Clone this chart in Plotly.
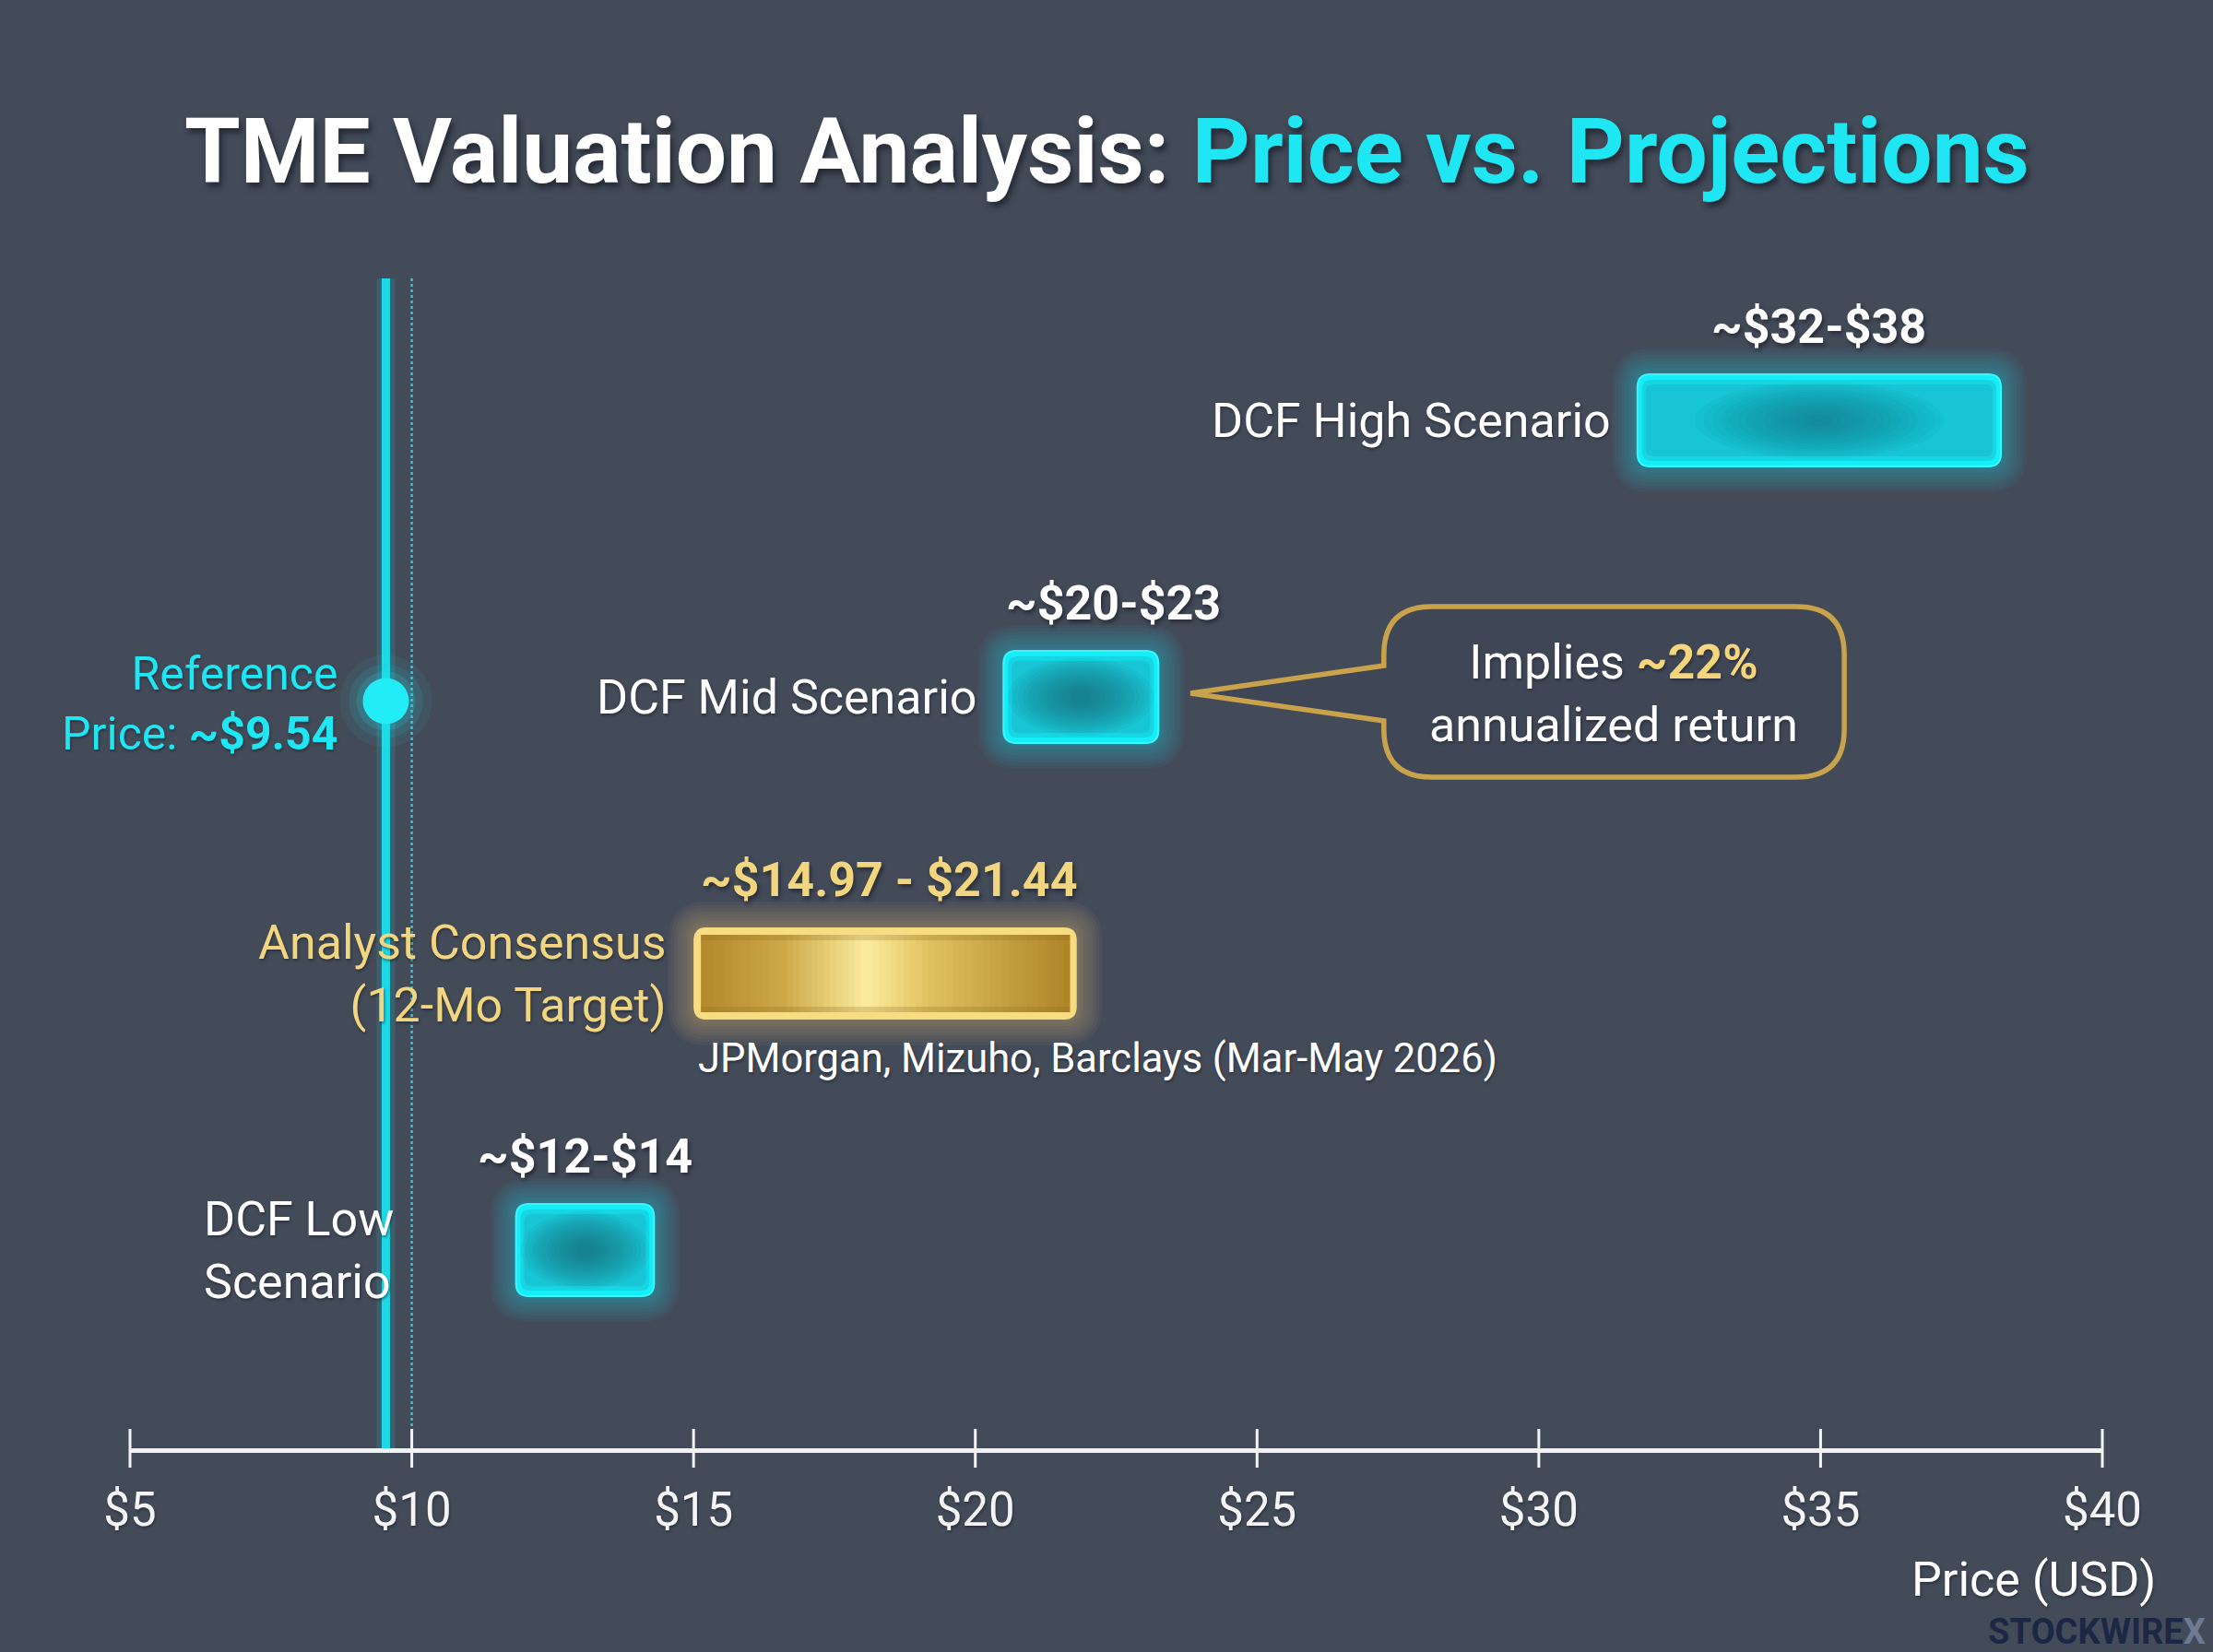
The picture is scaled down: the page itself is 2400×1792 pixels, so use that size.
import plotly.graph_objects as go

# ---------------- data ----------------
categories = ["DCF High Scenario", "DCF Mid Scenario",
              "Analyst Consensus<br>(12-Mo Target)", "DCF Low<br>Scenario"]
row_pos = [4, 3, 2, 1]
range_low = [31.75, 20.5, 15.0, 11.85]
range_high = [38.2, 23.25, 21.8, 14.3]
range_labels = ["~$32-$38", "~$20-$23", "~$14.97 - $21.44", "~$12-$14"]
is_consensus = [False, False, True, False]
reference_price = 9.54
reference_level = 10
tick_vals = [5, 10, 15, 20, 25, 30, 35, 40]
tick_text = ["$5", "$10", "$15", "$20", "$25", "$30", "$35", "$40"]
consensus_source = "JPMorgan, Mizuho, Barclays (Mar-May 2026)"
callout_text = ["Implies <b><span style='color:#F4D57C'>~22%</span></b>", "annualized return"]

# ---------------- layout geometry ----------------
W, H = 2400, 1792
ML, MR, MT, MB = 141, 120, 250, 221
X0, X1 = 5, 40
ROW_PX = 300
Y0 = 1 - 215 / ROW_PX
Y1 = Y0 + (H - MT - MB) / ROW_PX
PXX = (W - ML - MR) / (X1 - X0)

def px2x(p):
    return X0 + (p - ML) / PXX

def px2y(p):
    return Y0 + (H - MB - p) / ROW_PX

def x2px(v):
    return ML + (v - X0) * PXX

def y2px(v):
    return H - MB - (v - Y0) * ROW_PX

def P(x, y):
    return f"{px2x(x):.5f},{px2y(y):.5f}"

def rr_path(x0, y0, x1, y1, r):
    r = min(r, (x1 - x0) / 2, (y1 - y0) / 2)
    return (f"M {P(x0 + r, y0)} L {P(x1 - r, y0)} Q {P(x1, y0)} {P(x1, y0 + r)} "
            f"L {P(x1, y1 - r)} Q {P(x1, y1)} {P(x1 - r, y1)} L {P(x0 + r, y1)} "
            f"Q {P(x0, y1)} {P(x0, y1 - r)} L {P(x0, y0 + r)} Q {P(x0, y0)} {P(x0 + r, y0)} Z")

FONT = "Roboto"
CYAN = "#1EE6F2"
GOLD_TXT = "#F2D57F"
BG = "#434b59"
SHADOW = "1px 2px 3px rgba(20,25,35,0.5)"

shapes = []
annotations = []

def hex2rgb(h):
    h = h.lstrip('#')
    return tuple(int(h[i:i + 2], 16) for i in (0, 2, 4))

def lerp_color(stops, t):
    for i in range(len(stops) - 1):
        t0, c0 = stops[i]
        t1, c1 = stops[i + 1]
        if t0 <= t <= t1:
            f = (t - t0) / (t1 - t0) if t1 > t0 else 0
            a, b = hex2rgb(c0), hex2rgb(c1)
            return "rgb(%d,%d,%d)" % tuple(round(a[k] + (b[k] - a[k]) * f) for k in range(3))
    return stops[-1][1]

BAR_H = 100
for cat, rp, lo, hi, lab, cons in zip(categories, row_pos, range_low, range_high, range_labels, is_consensus):
    bx0, bx1 = x2px(lo), x2px(hi)
    cy = y2px(rp)
    by0, by1 = cy - BAR_H / 2, cy + BAR_H / 2
    glow = "#F5D46C" if cons else "#18E8F5"
    for k in range(1, 9):
        e = 3.5 * k
        shapes.append(dict(type="path", path=rr_path(bx0 - e, by0 - e, bx1 + e, by1 + e, 14 + e),
                           xref="x", yref="y", fillcolor=glow, opacity=0.045, line=dict(width=0), layer="below"))
    if cons:
        shapes.append(dict(type="path", path=rr_path(bx0, by0, bx1, by1, 14), xref="x", yref="y",
                           fillcolor="#F7DC82", line=dict(width=0)))
        ix0, ix1, iy0, iy1 = bx0 + 8, bx1 - 8, by0 + 8, by1 - 8
        stops = [(0, "#B3892B"), (0.22, "#CDA746"), (0.45, "#FCEC9E"), (0.62, "#DFC15F"), (1, "#AE8427")]
        n = 60
        for i in range(n):
            t = (i + 0.5) / n
            sx0 = ix0 + (ix1 - ix0) * i / n
            sx1 = ix0 + (ix1 - ix0) * (i + 1) / n + 0.8
            shapes.append(dict(type="rect", x0=px2x(sx0), x1=px2x(sx1), y0=px2y(iy1), y1=px2y(iy0),
                               xref="x", yref="y", fillcolor=lerp_color(stops, t), line=dict(width=0)))
        shapes.append(dict(type="rect", x0=px2x(ix0), x1=px2x(ix1), y0=px2y(iy0 + 6), y1=px2y(iy0),
                           xref="x", yref="y", fillcolor="#8a6a20", opacity=0.25, line=dict(width=0)))
        shapes.append(dict(type="rect", x0=px2x(ix0), x1=px2x(ix1), y0=px2y(iy1), y1=px2y(iy1 - 6),
                           xref="x", yref="y", fillcolor="#8a6a20", opacity=0.25, line=dict(width=0)))
    else:
        shapes.append(dict(type="path", path=rr_path(bx0, by0, bx1, by1, 14), xref="x", yref="y",
                           fillcolor="#14EEF8", line=dict(color="#3AF7FF", width=2)))
        shapes.append(dict(type="path", path=rr_path(bx0 + 5, by0 + 6, bx1 - 5, by1 - 6, 10), xref="x", yref="y",
                           fillcolor="#16D6E3", line=dict(width=0)))
        shapes.append(dict(type="path", path=rr_path(bx0 + 9, by0 + 11, bx1 - 9, by1 - 11, 8), xref="x", yref="y",
                           fillcolor="#18C2D1", line=dict(width=0), opacity=0.85))
        w, h = bx1 - bx0, by1 - by0
        cx = (bx0 + bx1) / 2
        rxmax = min(w / 2 - 10, 130)
        op = 0.07 if w < 250 else 0.05
        for j in range(14):
            f = 1 - j / 14
            rx = rxmax * f + 5
            ry = (h / 2 - 12) * f + 4
            shapes.append(dict(type="circle", x0=px2x(cx - rx), x1=px2x(cx + rx), y0=px2y(cy + ry), y1=px2y(cy - ry),
                               xref="x", yref="y", fillcolor="#1d5d6e", opacity=op, line=dict(width=0)))
    annotations.append(dict(x=(lo + hi) / 2, y=rp, xref="x", yref="y", yshift=102,
                            xshift=35 if rp == 3 else (5 if cons else 0),
                            text=f"<b>{lab}</b>", showarrow=False, xanchor="center", yanchor="middle",
                            font=dict(family=FONT, size=52, color=GOLD_TXT if cons else "#FFFFFF",
                                      shadow="2px 3px 4px rgba(20,25,35,0.6)")))
    if rp == 1:
        annotations.append(dict(x=6.28, y=rp, xref="x", yref="y", text=cat, showarrow=False,
                                xanchor="left", yanchor="middle", align="left",
                                font=dict(family=FONT, size=52, color="#FFFFFF", shadow=SHADOW)))
    else:
        annotations.append(dict(x=lo, y=rp, xref="x", yref="y", xshift=-27, text=cat, showarrow=False,
                                xanchor="right", yanchor="middle", align="right",
                                font=dict(family=FONT, size=52, color=GOLD_TXT if cons else "#FFFFFF",
                                          shadow=SHADOW)))
    if cons:
        annotations.append(dict(x=lo, y=rp, xref="x", yref="y", xshift=3, yshift=-92, text=consensus_source,
                                showarrow=False, xanchor="left", yanchor="middle",
                                font=dict(family=FONT, size=43.5, color="#FFFFFF", shadow=SHADOW)))

# ---------------- callout (tied to mid scenario row) ----------------
mid_y = y2px(3)
cb_x0, cb_x1 = x2px(27.25), x2px(35.42)
cb_y0, cb_y1 = mid_y - 98, mid_y + 87
tip_x, tip_y = x2px(23.82), mid_y - 4
pb_y0, pb_y1 = mid_y - 34, mid_y + 26
r = 52
callout_path = (f"M {P(cb_x0 + r, cb_y0)} L {P(cb_x1 - r, cb_y0)} Q {P(cb_x1, cb_y0)} {P(cb_x1, cb_y0 + r)} "
                f"L {P(cb_x1, cb_y1 - r)} Q {P(cb_x1, cb_y1)} {P(cb_x1 - r, cb_y1)} L {P(cb_x0 + r, cb_y1)} "
                f"Q {P(cb_x0, cb_y1)} {P(cb_x0, cb_y1 - r)} L {P(cb_x0, pb_y1)} L {P(tip_x, tip_y)} "
                f"L {P(cb_x0, pb_y0)} L {P(cb_x0, cb_y0 + r)} Q {P(cb_x0, cb_y0)} {P(cb_x0 + r, cb_y0)} Z")
shapes.append(dict(type="path", path=callout_path, xref="x", yref="y", fillcolor="rgba(58,64,77,0.35)",
                   line=dict(color="#C9A24C", width=5.5)))
annotations.append(dict(x=px2x((cb_x0 + cb_x1) / 2), y=3, xref="x", yref="y", yshift=4,
                        text="<br>".join(callout_text), showarrow=False, xanchor="center", yanchor="middle",
                        align="center", font=dict(family=FONT, size=52, color="#FFFFFF", shadow=SHADOW)))

# ---------------- traces ----------------
fig = go.Figure()
line_top = px2y(302)
fig.add_trace(go.Scatter(x=[reference_level, reference_level], y=[Y0, line_top], mode="lines",
                         line=dict(color="#52B9C8", width=2.5, dash="dot"), hoverinfo="skip"))
fig.add_trace(go.Scatter(x=[reference_price, reference_price], y=[Y0, line_top], mode="lines",
                         line=dict(color="rgba(30,220,235,0.15)", width=20), hoverinfo="skip"))
fig.add_trace(go.Scatter(x=[reference_price, reference_price], y=[Y0, line_top], mode="lines",
                         line=dict(color="#1ED8E6", width=9), hoverinfo="skip"))
ref_y = 2.985
for sz, op in [(100, 0.06), (80, 0.1), (64, 0.16)]:
    fig.add_trace(go.Scatter(x=[reference_price], y=[ref_y], mode="markers",
                             marker=dict(size=sz, color="#1EE9F4", opacity=op, line=dict(width=0)),
                             hoverinfo="skip"))
fig.add_trace(go.Scatter(x=[reference_price], y=[ref_y], mode="markers",
                         marker=dict(size=50, color="#22ECF6", line=dict(width=0)), hoverinfo="skip"))
fig.add_trace(go.Scatter(x=tick_vals, y=[Y0] * len(tick_vals), mode="markers",
                         marker=dict(symbol="line-ns-open", size=30, color="#F4F4F4",
                                     line=dict(color="#F4F4F4", width=3)),
                         cliponaxis=False, hoverinfo="skip"))

annotations.append(dict(x=reference_price, y=ref_y, xref="x", yref="y", xshift=-49, yshift=-3,
                        text="Reference<br>Price: <b>~$9.54</b>", showarrow=False, xanchor="right",
                        yanchor="middle", align="right",
                        font=dict(family=FONT, size=50, color=CYAN, shadow=SHADOW)))

annotations.append(dict(x=(1200 - ML) / (W - ML - MR), y=(H - MB - 165) / (H - MT - MB),
                        xref="paper", yref="paper", showarrow=False, xanchor="center", yanchor="middle",
                        text="<b>TME Valuation Analysis: <span style='color:#1EE6F2'>Price vs. Projections</span></b>",
                        font=dict(family=FONT, size=98, color="#FFFFFF", shadow="3px 5px 6px rgba(15,20,30,0.6)")))
annotations.append(dict(x=(2340 - ML) / (W - ML - MR), y=(H - MB - 1713) / (H - MT - MB),
                        xref="paper", yref="paper", showarrow=False, xanchor="right", yanchor="middle",
                        text="Price (USD)", font=dict(family=FONT, size=52, color="#FFFFFF", shadow=SHADOW)))
annotations.append(dict(x=(2394 - ML) / (W - ML - MR), y=(H - MB - 1770) / (H - MT - MB),
                        xref="paper", yref="paper", showarrow=False, xanchor="right", yanchor="middle",
                        text="<b>STOCKWIRE<span style='color:#6d7a93'>X</span></b>",
                        font=dict(family=FONT, size=38, color="#1b2744")))

fig.update_layout(
    width=W, height=H, margin=dict(l=ML, r=MR, t=MT, b=MB),
    paper_bgcolor=BG, plot_bgcolor=BG, showlegend=False, hovermode=False,
    shapes=shapes, annotations=annotations,
    xaxis=dict(range=[X0, X1], showgrid=False, zeroline=False, showline=True, linecolor="#F2F2F2",
               linewidth=5, tickvals=tick_vals, ticktext=tick_text, ticks="", ticklabelstandoff=18,
               tickfont=dict(family=FONT, size=51, color="#F4F4F4", shadow=SHADOW),
               fixedrange=True),
    yaxis=dict(range=[Y0, Y1], visible=False, fixedrange=True),
)
fig.write_html("out.html")
